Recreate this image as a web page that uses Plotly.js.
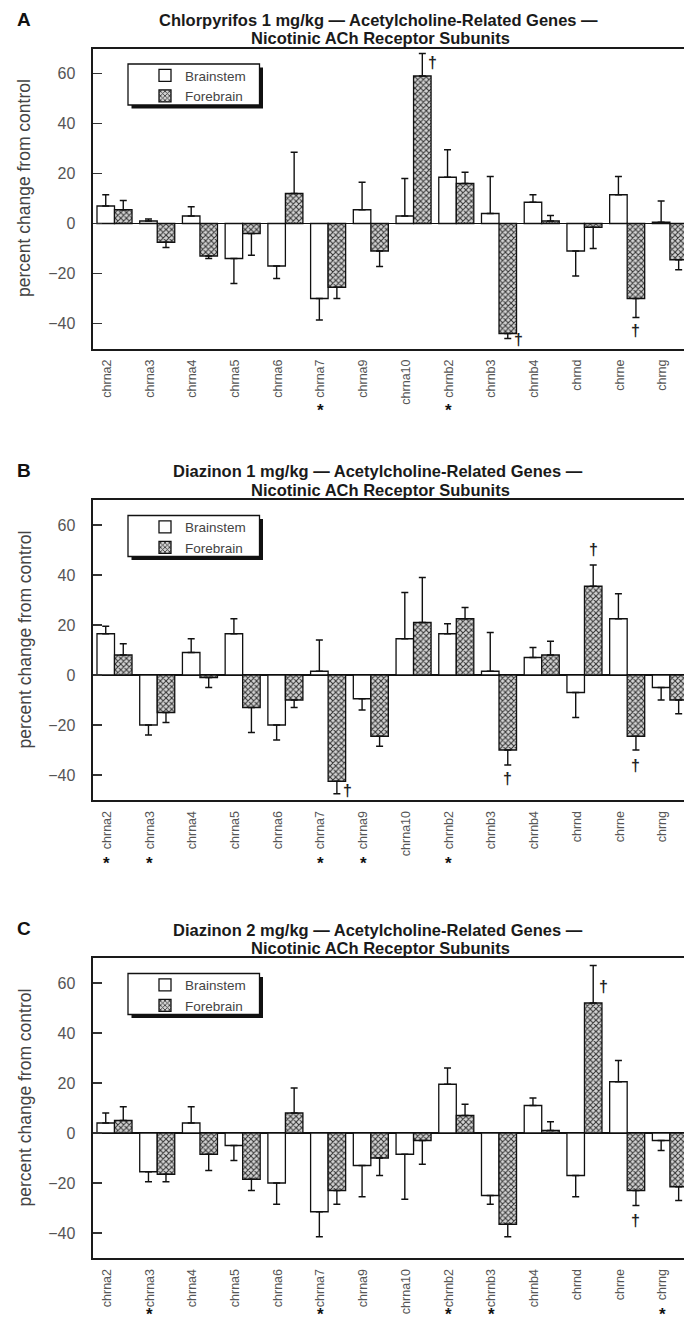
<!DOCTYPE html>
<html>
<head>
<meta charset="utf-8">
<script src="https://cdn.plot.ly/plotly-3.0.1.min.js"></script>
<style>html,body{margin:0;padding:0;background:#fff;}#chart{width:684px;height:1325px;}</style>
</head>
<body>
<div id="chart"></div>
<script>
// ---------- DATA ----------
const genes = ['chrna2','chrna3','chrna4','chrna5','chrna6','chrna7','chrna9','chrna10','chrnb2','chrnb3','chrnb4','chrnd','chrne','chrng'];
const seriesNames = ['Brainstem','Forebrain'];

const panelTitlesLine1 = ['Chlorpyrifos 1 mg/kg \u2014 Acetylcholine-Related Genes \u2014',
                          'Diazinon 1 mg/kg \u2014 Acetylcholine-Related Genes \u2014',
                          'Diazinon 2 mg/kg \u2014 Acetylcholine-Related Genes \u2014'];
const panelTitleLine2 = 'Nicotinic ACh Receptor Subunits';
const panelLetters = ['A','B','C'];
const yAxisTitle = 'percent change from control';
const yTickVals = [-40,-20,0,20,40,60];

// Panel A: Chlorpyrifos 1 mg/kg
const cpfBrainstem    = [7, 1, 3, -14, -17, -30, 5.5, 3, 18.5, 4, 8.5, -11, 11.5, 0.5];
const cpfBrainstemErr = [4.5, 0.8, 3.7, 10, 5, 8.6, 11, 15, 11, 14.8, 3, 10, 7.3, 8.5];
const cpfForebrain    = [5.5, -7.5, -13, -4, 12, -25.5, -11, 59, 16, -44, 1, -1.5, -30, -14.5];
const cpfForebrainErr = [3.7, 2.1, 1, 8.7, 16.5, 4.5, 6.2, 9, 4.5, 2, 2.2, 8.5, 7.6, 4];

// Panel B: Diazinon 1 mg/kg
const dzn1Brainstem    = [16.5, -20, 9, 16.5, -20, 1.5, -9.5, 14.5, 16.5, 1.5, 7, -7, 22.5, -5];
const dzn1BrainstemErr = [3, 4, 5.5, 6, 6, 12.5, 4.5, 18.5, 4, 15.5, 4, 10, 10, 5];
const dzn1Forebrain    = [8, -15, -1, -13, -10, -42.5, -24.5, 21, 22.5, -30, 8, 35.5, -24.5, -10];
const dzn1ForebrainErr = [4.5, 4, 4, 10, 3, 5, 4, 18, 4.5, 6, 5.5, 8.5, 5.5, 5.5];

// Panel C: Diazinon 2 mg/kg
const dzn2Brainstem    = [4, -15.5, 4, -5, -20, -31.5, -13, -8.5, 19.5, -25, 11, -17, 20.5, -3];
const dzn2BrainstemErr = [4, 4, 6.5, 6, 8.5, 10, 12.5, 18, 6.5, 3.5, 3, 8.5, 8.5, 4];
const dzn2Forebrain    = [5, -16.5, -8.5, -18.5, 8, -23, -10, -3, 7, -36.5, 1, 52, -23, -21.5];
const dzn2ForebrainErr = [5.5, 3, 6.5, 4.5, 10, 5.5, 7, 9.5, 4.5, 5, 3.5, 15, 6, 5.5];

// significance marks: asterisks under gene labels, daggers on forebrain bars
const starsA = ['chrna7','chrnb2'];
const starsB = ['chrna2','chrna3','chrna7','chrna9','chrnb2'];
const starsC = ['chrna3','chrna7','chrnb2','chrnb3','chrng'];
const daggerGenesA = ['chrna10','chrnb3','chrne'];
const daggerYA     = [64.5, -46.5, -43];
const daggerSideA  = ['right','right','center'];
const daggerGenesB = ['chrna7','chrnb3','chrnd','chrne'];
const daggerYB     = [-46, -41.3, 50.4, -36];
const daggerSideB  = ['right','center','center','center'];
const daggerGenesC = ['chrnd','chrne'];
const daggerYC     = [58.6, -35];
const daggerSideC  = ['right','center'];

// ---------- LAYOUT HELPERS ----------
const W = 684, H = 1325;
const px = x => x / W;
const py = y => 1 - y / H;
const FONT = 'Liberation Sans, Arial, Helvetica, sans-serif';
const plotLeft = 92.5;
const panelTop = [48.5, 500, 958];      // pixel top of each plot frame
const panelH = 300;
const xIdx = genes.map((g, i) => i);

const panels = [
  {b: cpfBrainstem, be: cpfBrainstemErr, f: cpfForebrain, fe: cpfForebrainErr, stars: starsA, dg: daggerGenesA, dy: daggerYA, ds: daggerSideA, starOff: 62},
  {b: dzn1Brainstem, be: dzn1BrainstemErr, f: dzn1Forebrain, fe: dzn1ForebrainErr, stars: starsB, dg: daggerGenesB, dy: daggerYB, ds: daggerSideB, starOff: 63},
  {b: dzn2Brainstem, be: dzn2BrainstemErr, f: dzn2Forebrain, fe: dzn2ForebrainErr, stars: starsC, dg: daggerGenesC, dy: daggerYC, ds: daggerSideC, starOff: 56}
];

function errPlus(v, e) { return v.map((val, i) => val >= 0 ? e[i] : 0); }
function errMinus(v, e) { return v.map((val, i) => val < 0 ? e[i] : 0); }

const traces = [];
const layout = {
  width: W, height: H,
  margin: {l: 0, r: 0, t: 0, b: 0},
  paper_bgcolor: '#fff', plot_bgcolor: '#fff',
  barmode: 'group', bargap: 0.18, bargroupgap: 0,
  font: {family: FONT, color: '#222'},
  showlegend: true,
  annotations: [], shapes: []
};

panels.forEach((p, k) => {
  const sfx = k === 0 ? '' : String(k + 1);
  const xa = 'x' + sfx, ya = 'y' + sfx;
  const lg = 'legend' + sfx;
  const top = panelTop[k];
  const errStyle = {color: '#111', thickness: 1.4, width: 3.5};

  traces.push({
    type: 'bar', name: seriesNames[0], x: xIdx, y: p.b, xaxis: xa, yaxis: ya, legend: lg,
    offsetgroup: 'b',
    marker: {color: '#ffffff', line: {color: '#111', width: 1.3}},
    error_y: Object.assign({type: 'data', symmetric: false, array: errPlus(p.b, p.be), arrayminus: errMinus(p.b, p.be)}, errStyle),
    hoverinfo: 'skip'
  });
  traces.push({
    type: 'bar', name: seriesNames[1], x: xIdx, y: p.f, xaxis: xa, yaxis: ya, legend: lg,
    offsetgroup: 'f',
    marker: {color: '#9a9a9a', line: {color: '#111', width: 1.3},
             pattern: {shape: 'x', fgcolor: '#333', bgcolor: '#d4d4d4', size: 4, solidity: 0.45}},
    error_y: Object.assign({type: 'data', symmetric: false, array: errPlus(p.f, p.fe), arrayminus: errMinus(p.f, p.fe)}, errStyle),
    hoverinfo: 'skip'
  });

  layout['xaxis' + sfx] = {
    domain: [px(plotLeft), 1], anchor: ya, range: [-0.515, 13.33],
    showline: true, mirror: true, linecolor: '#1a1a1a', linewidth: 2,
    showgrid: false, zeroline: false, ticks: '',
    tickmode: 'array', tickvals: xIdx.map(i => i - 0.18), ticktext: genes,
    tickangle: -90, tickfont: {size: 12.5, color: '#555', family: FONT},
    ticklabelstandoff: 4, automargin: false, fixedrange: true
  };
  layout['yaxis' + sfx] = {
    domain: [py(top + panelH), py(top)], anchor: xa, range: [-50, 70],
    showline: true, linecolor: '#1a1a1a', linewidth: 2,
    showgrid: false, zeroline: true, zerolinecolor: '#111', zerolinewidth: 1.6,
    ticks: 'inside', ticklen: 9, tickwidth: 1.5, tickcolor: '#333',
    tickmode: 'array', tickvals: yTickVals,
    tickfont: {size: 16, color: '#555', family: FONT},
    ticklabelstandoff: 12, automargin: false, fixedrange: true
  };

  // legend box + shadow
  const off = top - 48.5;
  layout.shapes.push({type: 'rect', xref: 'paper', yref: 'paper', layer: 'above',
    x0: px(131.5), x1: px(263), y0: py(108.5 + off), y1: py(67.5 + off),
    fillcolor: '#111', line: {width: 0}});
  layout.shapes.push({type: 'rect', xref: 'paper', yref: 'paper', layer: 'above',
    x0: px(128), x1: px(259.5), y0: py(105 + off), y1: py(64 + off),
    fillcolor: '#fff', line: {color: '#111', width: 1.3}});
  layout[lg] = {
    x: px(145), xanchor: 'left', y: py(60 + off), yanchor: 'top',
    bgcolor: 'rgba(0,0,0,0)', borderwidth: 0,
    font: {size: 13.5, color: '#444', family: FONT},
    tracegroupgap: 0, itemwidth: 30
  };

  // panel letter
  layout.annotations.push({xref: 'paper', yref: 'paper', x: px(24), y: py(top - 29.5),
    text: '<b>' + panelLetters[k] + '</b>', showarrow: false, xanchor: 'center', yanchor: 'middle',
    font: {size: 19, color: '#111', family: FONT}});
  // title lines
  layout.annotations.push({xref: 'paper', yref: 'paper', x: px(378), y: py(top - 28.5),
    text: '<b>' + panelTitlesLine1[k] + '</b>', showarrow: false, xanchor: 'center', yanchor: 'middle',
    font: {size: 16.5, color: '#1a1a1a', family: FONT}});
  layout.annotations.push({xref: 'paper', yref: 'paper', x: px(380), y: py(top - 10),
    text: '<b>' + panelTitleLine2 + '</b>', showarrow: false, xanchor: 'center', yanchor: 'middle',
    font: {size: 16.5, color: '#1a1a1a', family: FONT}});
  // y-axis title
  layout.annotations.push({xref: 'paper', yref: 'paper', x: px(24.5), y: py(top + panelH / 2 - 10),
    text: yAxisTitle, textangle: -90, showarrow: false, xanchor: 'center', yanchor: 'middle',
    font: {size: 17.5, color: '#444', family: FONT}});
  // asterisks
  p.stars.forEach(g => {
    layout.annotations.push({xref: xa, yref: 'paper', x: genes.indexOf(g) - 0.18, y: py(top + panelH + p.starOff),
      text: '<b>*</b>', showarrow: false, xanchor: 'center', yanchor: 'middle',
      font: {size: 17, color: '#111', family: FONT}});
  });
  // daggers
  p.dg.forEach((g, j) => {
    const i = genes.indexOf(g);
    const dx = p.ds[j] === 'right' ? 0.24 : 0;
    layout.annotations.push({xref: xa, yref: ya, x: i + 0.205 + dx, y: p.dy[j],
      text: '<b>\u2020</b>', showarrow: false, xanchor: 'center', yanchor: 'middle',
      font: {size: 16, color: '#222', family: FONT}});
  });
});

Plotly.newPlot('chart', traces, layout, {staticPlot: true, displayModeBar: false});
</script>
</body>
</html>
